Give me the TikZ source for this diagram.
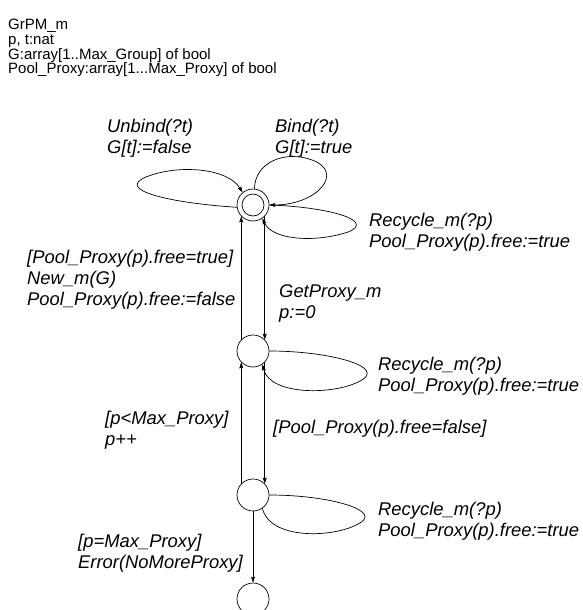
\documentclass[tikz,border=0pt]{standalone}
\usepackage{fontspec}
\setmainfont{Liberation Sans}
\usetikzlibrary{arrows.meta}
\begin{document}
\begin{tikzpicture}[x=1pt,y=-1pt,
  state/.style={draw,circle,minimum size=32pt,inner sep=0pt,line width=0.7pt},
  lab/.style={anchor=base west,inner sep=0pt,align=left,
    font=\fontsize{18.4}{21}\selectfont\itshape},
  hdr/.style={anchor=base west,inner sep=0pt,align=left,
    font=\fontsize{15}{14.7}\selectfont},
  edge/.style={line width=0.7pt},
  arr/.style={edge,-{Stealth[length=6pt,width=4pt,inset=1pt]}}]
\useasboundingbox (0,0) rectangle (582,610);
\clip (0,0) rectangle (582,610);

% states
\node[state] (s0) at (253,205) {};
\draw[line width=0.7pt] (s0.center) circle (11);
\node[state] (s1) at (253,351) {};
\node[state] (s2) at (253,495) {};
\node[state] (s3) at (253,599) {};

% header (anchor = baseline of last line)
\node[hdr] (hd) at (8,74) {GrPM\_m\\p, t:nat\\G:array[1..Max\_Group] of bool\\Pool\_Proxy:array[1...Max\_Proxy] of bool};

% loops on top state
\draw[arr] (s0.188) .. controls (170,203) and (115,190) .. (146,177)
  .. controls (178,164) and (228,168) .. (s0.130);
\draw[arr] (s0.85) .. controls (255,162) and (285,150) .. (312,160)
  .. controls (345,172) and (318,205) .. (s0.east);
\draw[arr] (s0.east) .. controls (330,207) and (376,221) .. (348,232)
  .. controls (315,243) and (272,240) .. (s0.305);

% loop on second state
\draw[arr] (s1.east) .. controls (330,351) and (388,367) .. (360,381)
  .. controls (335,395) and (270,396) .. (s1.305);
% loop on third state
\draw[edge] (s2.east) .. controls (330,495) and (385,511) .. (358,524)
  .. controls (333,538) and (270,540) .. (s2.305);

% vertical transitions
\draw[arr] (s1.136) -- (s0.224);
\draw[arr] (s0.316) -- (s1.44);
\draw[arr] (s2.136) -- (s1.224);
\draw[arr] (s1.316) -- (s2.44);
\draw[arr] (s2.south) -- (s3.north);

% labels (anchor = baseline of last line)
\node[lab] (lunbind) at (107,153) {Unbind(?t)\\G[t]:=false};
\node[lab] (lbind) at (275,153) {Bind(?t)\\G[t]:=true};
\node[lab] (lrec0) at (369,247) {Recycle\_m(?p)\\Pool\_Proxy(p).free:=true};
\node[lab] (lnew) at (27,305) {[Pool\_Proxy(p).free=true]\\New\_m(G)\\Pool\_Proxy(p).free:=false};
\node[lab] (lget) at (279,318) {GetProxy\_m\\p:=0};
\node[lab] (lrec1) at (378,391) {Recycle\_m(?p)\\Pool\_Proxy(p).free:=true};
\node[lab] (lpp) at (105,445) {[p<Max\_Proxy]\\p++};
\node[lab] (lfalse) at (273,433) {[Pool\_Proxy(p).free=false]};
\node[lab] (lrec2) at (378,536) {Recycle\_m(?p)\\Pool\_Proxy(p).free:=true};
\node[lab] (lerr) at (78,568) {[p=Max\_Proxy]\\Error(NoMoreProxy]};
\end{tikzpicture}
\end{document}
